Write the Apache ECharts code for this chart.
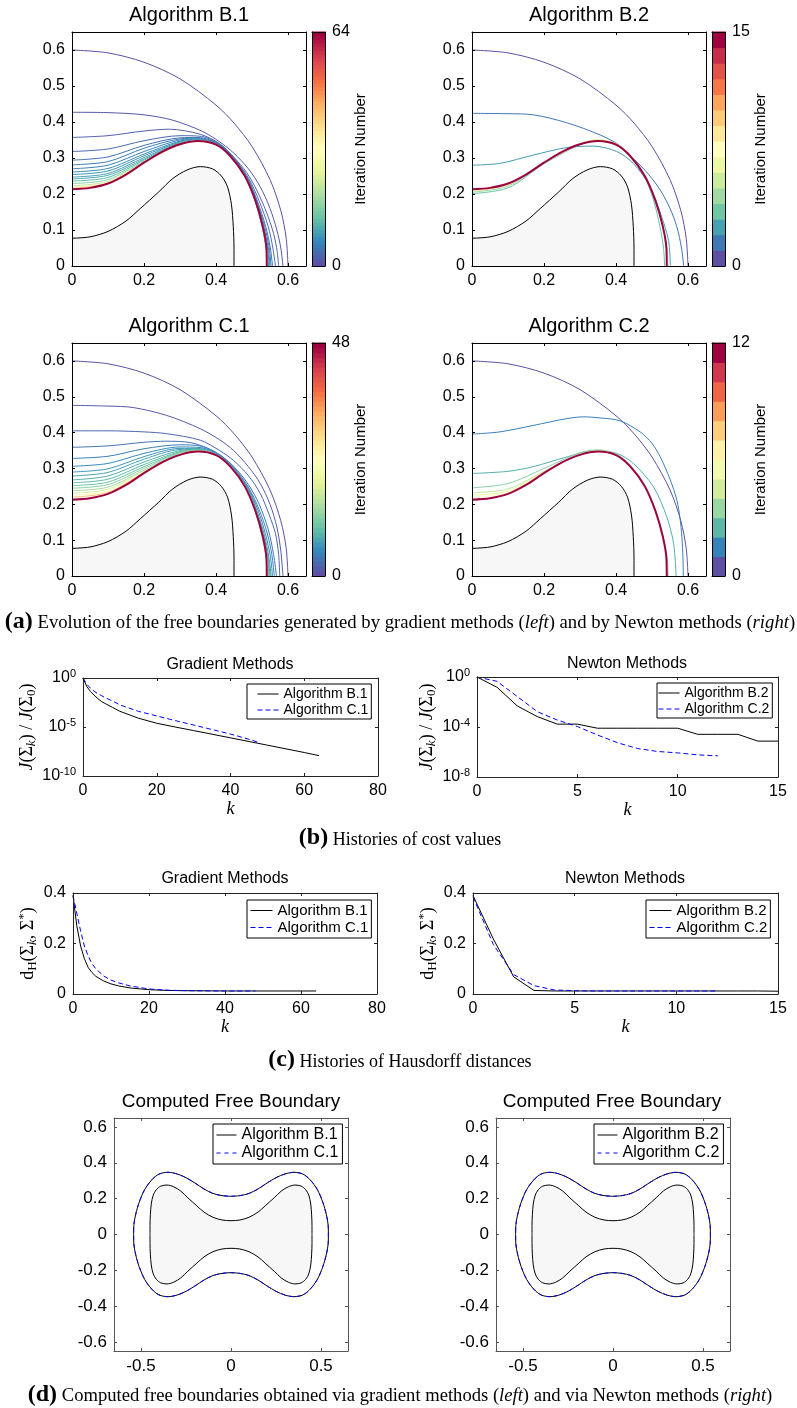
<!DOCTYPE html>
<html lang="en">
<head>
<meta charset="UTF-8">
<title>Free boundary iterations</title>
<script src="https://cdn.jsdelivr.net/npm/echarts@6/dist/echarts.min.js"></script>
<style>
html, body { margin: 0; padding: 0; background: #fff; }
#main { width: 797px; height: 1408px; }
</style>
</head>
<body>
<div id="main"></div>
<script>
// ---------- data ----------
// quarter of the obstacle (grey region) and of the converged free boundary
var obstacle = [[0,0.077],[0.05,0.081],[0.1,0.096],[0.15,0.125],[0.19,0.16],[0.24,0.205],[0.28,0.243],[0.32,0.267],[0.356,0.276],[0.39,0.27],[0.415,0.25],[0.432,0.22],[0.443,0.17],[0.448,0.11],[0.45,0.05],[0.45,0]];
var finalBoundary = [[0,0.213],[0.05,0.217],[0.1,0.229],[0.15,0.254],[0.2,0.287],[0.25,0.317],[0.3,0.338],[0.35,0.347],[0.4,0.337],[0.44,0.305],[0.48,0.25],[0.51,0.18],[0.53,0.11],[0.54,0.05],[0.541,0]];
var initialBoundary = [[0,0.6],[0.1,0.592],[0.2,0.566],[0.3,0.52],[0.4,0.447],[0.45,0.397],[0.5,0.332],[0.55,0.24],[0.58,0.154],[0.595,0.077],[0.6,0]];

// Algorithm B.1 (64 iterations), a few of the iterates
var b1Iters = [0,1,2,3,4,5,6,7,8,9,10,12,16,22,30,42,64];
var b1Curves = [
  initialBoundary,
  [[0,0.427],[0.1,0.426],[0.2,0.42],[0.28,0.405],[0.36,0.375],[0.41,0.345],[0.45,0.313],[0.49,0.27],[0.523,0.22],[0.55,0.16],[0.569,0.1],[0.58,0.05],[0.586,0]],
  [[0,0.357],[0.1,0.362],[0.2,0.375],[0.27,0.38],[0.356,0.366],[0.41,0.34],[0.448,0.304],[0.485,0.26],[0.513,0.211],[0.54,0.15],[0.56,0.09],[0.57,0.04],[0.574,0]],
  [[0,0.318],[0.1,0.325],[0.2,0.348],[0.3,0.362],[0.36,0.36],[0.41,0.338],[0.45,0.3],[0.49,0.245],[0.52,0.18],[0.545,0.11],[0.558,0.05],[0.565,0]],
  [[0,0.294],[0.1,0.303],[0.2,0.335],[0.3,0.356],[0.35,0.357],[0.41,0.338],[0.45,0.3],[0.49,0.24],[0.515,0.18],[0.538,0.11],[0.551,0.05],[0.557,0]],
  [[0,0.281],[0.1,0.29],[0.2,0.327],[0.3,0.353],[0.35,0.355],[0.41,0.336],[0.45,0.299],[0.49,0.238],[0.515,0.175],[0.535,0.11],[0.548,0.05],[0.553,0]],
  [[0,0.27],[0.1,0.28],[0.2,0.318],[0.3,0.35],[0.35,0.353],[0.41,0.335],[0.45,0.298],[0.49,0.236],[0.513,0.175],[0.532,0.11],[0.545,0.05],[0.55,0]],
  [[0,0.261],[0.1,0.271],[0.2,0.311],[0.3,0.347],[0.35,0.352],[0.41,0.334],[0.45,0.297],[0.49,0.235],[0.512,0.175],[0.53,0.11],[0.543,0.05],[0.548,0]],
  [[0,0.254],[0.1,0.264],[0.2,0.306],[0.3,0.345],[0.35,0.351],[0.41,0.333],[0.45,0.296],[0.49,0.234],[0.511,0.175],[0.529,0.11],[0.541,0.05],[0.546,0]],
  [[0,0.247],[0.1,0.257],[0.2,0.301],[0.3,0.343],[0.35,0.35],[0.4,0.34],[0.45,0.296],[0.49,0.233],[0.51,0.176],[0.528,0.11],[0.54,0.05],[0.545,0]],
  [[0,0.242],[0.1,0.252],[0.2,0.297],[0.3,0.342],[0.35,0.35],[0.4,0.339],[0.45,0.295],[0.49,0.233],[0.51,0.177],[0.528,0.11],[0.539,0.05],[0.544,0]],
  [[0,0.236],[0.1,0.246],[0.2,0.294],[0.3,0.341],[0.35,0.349],[0.4,0.338],[0.44,0.306],[0.48,0.251],[0.51,0.18],[0.53,0.11],[0.541,0.05],[0.543,0]],
  [[0,0.229],[0.1,0.24],[0.2,0.291],[0.3,0.34],[0.35,0.348],[0.4,0.338],[0.44,0.306],[0.48,0.25],[0.51,0.18],[0.53,0.11],[0.54,0.05],[0.543,0]],
  [[0,0.223],[0.1,0.235],[0.2,0.289],[0.3,0.339],[0.35,0.348],[0.4,0.337],[0.44,0.305],[0.48,0.25],[0.51,0.18],[0.53,0.11],[0.54,0.05],[0.542,0]],
  [[0,0.219],[0.1,0.232],[0.2,0.288],[0.3,0.339],[0.35,0.348],[0.4,0.337],[0.44,0.305],[0.48,0.25],[0.51,0.18],[0.53,0.11],[0.54,0.05],[0.542,0]],
  [[0,0.216],[0.1,0.23],[0.2,0.287],[0.3,0.338],[0.35,0.347],[0.4,0.337],[0.44,0.305],[0.48,0.25],[0.51,0.18],[0.53,0.11],[0.54,0.05],[0.542,0]],
  finalBoundary
];

// Algorithm C.1 (48 iterations)
var c1Iters = [0,1,2,3,4,5,6,7,8,9,10,12,14,18,24,32,48];
var c1Curves = [
  initialBoundary,
  [[0,0.476],[0.1,0.474],[0.17,0.47],[0.263,0.448],[0.356,0.411],[0.41,0.38],[0.448,0.351],[0.49,0.305],[0.523,0.258],[0.55,0.2],[0.569,0.137],[0.58,0.07],[0.586,0]],
  [[0,0.405],[0.1,0.405],[0.2,0.402],[0.263,0.397],[0.356,0.379],[0.41,0.35],[0.448,0.323],[0.49,0.28],[0.523,0.23],[0.548,0.17],[0.565,0.119],[0.574,0.06],[0.577,0]],
  [[0,0.359],[0.1,0.363],[0.2,0.373],[0.26,0.376],[0.33,0.372],[0.4,0.345],[0.45,0.305],[0.49,0.255],[0.52,0.2],[0.545,0.13],[0.56,0.06],[0.568,0]],
  [[0,0.328],[0.1,0.334],[0.2,0.355],[0.3,0.366],[0.36,0.362],[0.41,0.338],[0.45,0.302],[0.49,0.248],[0.52,0.185],[0.542,0.12],[0.555,0.06],[0.562,0]],
  [[0,0.306],[0.1,0.314],[0.2,0.342],[0.3,0.36],[0.36,0.358],[0.41,0.336],[0.45,0.3],[0.49,0.244],[0.518,0.18],[0.538,0.115],[0.551,0.055],[0.557,0]],
  [[0,0.29],[0.1,0.299],[0.2,0.333],[0.3,0.356],[0.35,0.356],[0.41,0.335],[0.45,0.299],[0.49,0.24],[0.515,0.178],[0.535,0.112],[0.547,0.052],[0.553,0]],
  [[0,0.279],[0.1,0.289],[0.2,0.326],[0.3,0.353],[0.35,0.354],[0.41,0.334],[0.45,0.298],[0.49,0.238],[0.514,0.176],[0.533,0.11],[0.545,0.05],[0.55,0]],
  [[0,0.268],[0.1,0.279],[0.2,0.318],[0.3,0.35],[0.35,0.353],[0.41,0.333],[0.45,0.297],[0.49,0.236],[0.512,0.176],[0.531,0.11],[0.543,0.05],[0.548,0]],
  [[0,0.26],[0.1,0.27],[0.2,0.311],[0.3,0.347],[0.35,0.352],[0.41,0.333],[0.45,0.296],[0.49,0.235],[0.511,0.176],[0.53,0.11],[0.542,0.05],[0.547,0]],
  [[0,0.252],[0.1,0.262],[0.2,0.305],[0.3,0.345],[0.35,0.351],[0.4,0.34],[0.45,0.296],[0.49,0.234],[0.51,0.177],[0.529,0.11],[0.541,0.05],[0.545,0]],
  [[0,0.245],[0.1,0.255],[0.2,0.3],[0.3,0.343],[0.35,0.35],[0.4,0.339],[0.45,0.295],[0.49,0.233],[0.51,0.178],[0.528,0.11],[0.54,0.05],[0.544,0]],
  [[0,0.238],[0.1,0.248],[0.2,0.295],[0.3,0.341],[0.35,0.349],[0.4,0.338],[0.44,0.306],[0.48,0.251],[0.51,0.18],[0.53,0.11],[0.541,0.05],[0.543,0]],
  [[0,0.231],[0.1,0.242],[0.2,0.292],[0.3,0.34],[0.35,0.348],[0.4,0.338],[0.44,0.306],[0.48,0.25],[0.51,0.18],[0.53,0.11],[0.54,0.05],[0.543,0]],
  [[0,0.225],[0.1,0.237],[0.2,0.29],[0.3,0.339],[0.35,0.348],[0.4,0.337],[0.44,0.305],[0.48,0.25],[0.51,0.18],[0.53,0.11],[0.54,0.05],[0.542,0]],
  [[0,0.22],[0.1,0.233],[0.2,0.288],[0.3,0.339],[0.35,0.348],[0.4,0.337],[0.44,0.305],[0.48,0.25],[0.51,0.18],[0.53,0.11],[0.54,0.05],[0.542,0]],
  finalBoundary
];

// Algorithm B.2 (15 iterations)
var b2Iters = [0,1,2,3,4,6,9,15];
var b2Curves = [
  initialBoundary,
  [[0,0.424],[0.1,0.423],[0.17,0.42],[0.263,0.398],[0.356,0.364],[0.41,0.335],[0.448,0.299],[0.49,0.255],[0.523,0.211],[0.55,0.16],[0.569,0.109],[0.582,0.05],[0.588,0]],
  [[0,0.28],[0.077,0.285],[0.17,0.308],[0.263,0.329],[0.337,0.333],[0.402,0.318],[0.448,0.285],[0.495,0.22],[0.527,0.136],[0.546,0.071],[0.551,0]],
  [[0,0.201],[0.1,0.217],[0.2,0.284],[0.3,0.337],[0.35,0.348],[0.4,0.336],[0.44,0.303],[0.48,0.246],[0.505,0.18],[0.522,0.11],[0.532,0.05],[0.535,0]],
  [[0,0.205],[0.1,0.222],[0.2,0.286],[0.3,0.339],[0.35,0.35],[0.4,0.339],[0.44,0.307],[0.48,0.252],[0.51,0.182],[0.53,0.112],[0.541,0.05],[0.544,0]],
  [[0,0.208],[0.1,0.225],[0.2,0.287],[0.3,0.34],[0.35,0.351],[0.4,0.34],[0.44,0.307],[0.48,0.251],[0.51,0.181],[0.53,0.111],[0.54,0.05],[0.543,0]],
  [[0,0.211],[0.1,0.228],[0.2,0.287],[0.3,0.339],[0.35,0.349],[0.4,0.338],[0.44,0.306],[0.48,0.25],[0.51,0.18],[0.53,0.11],[0.54,0.05],[0.542,0]],
  finalBoundary
];

// Algorithm C.2 (12 iterations)
var c2Iters = [0,1,2,3,4,5,6,12];
var c2Curves = [
  initialBoundary,
  [[0,0.396],[0.077,0.402],[0.17,0.42],[0.263,0.439],[0.309,0.444],[0.356,0.441],[0.411,0.433],[0.467,0.402],[0.5,0.37],[0.523,0.332],[0.55,0.27],[0.569,0.212],[0.578,0.16],[0.583,0.11],[0.586,0.05],[0.587,0]],
  [[0,0.286],[0.1,0.292],[0.17,0.305],[0.263,0.332],[0.337,0.349],[0.402,0.342],[0.448,0.314],[0.504,0.249],[0.541,0.165],[0.56,0.091],[0.567,0]],
  [[0,0.246],[0.1,0.258],[0.2,0.3],[0.3,0.344],[0.35,0.352],[0.4,0.341],[0.44,0.309],[0.48,0.254],[0.51,0.184],[0.53,0.114],[0.542,0.05],[0.545,0]],
  [[0,0.232],[0.1,0.243],[0.2,0.292],[0.3,0.34],[0.35,0.35],[0.4,0.339],[0.44,0.307],[0.48,0.251],[0.51,0.181],[0.53,0.111],[0.541,0.05],[0.543,0]],
  [[0,0.225],[0.1,0.237],[0.2,0.29],[0.3,0.339],[0.35,0.349],[0.4,0.338],[0.44,0.306],[0.48,0.25],[0.51,0.18],[0.53,0.11],[0.54,0.05],[0.542,0]],
  [[0,0.219],[0.1,0.233],[0.2,0.288],[0.3,0.339],[0.35,0.348],[0.4,0.337],[0.44,0.305],[0.48,0.25],[0.51,0.18],[0.53,0.11],[0.54,0.05],[0.542,0]],
  finalBoundary
];

// cost histories J(Sigma_k)/J(Sigma_0), [k, value]
var costGradB1 = [[0,1],[1,1.4e-1],[2,4.3e-2],[3,1.8e-2],[4,8.0e-3],[5,4.0e-3],[6,2.5e-3],[8,1.0e-3],[10,4.0e-4],[15,8.0e-5],[20,2.4e-5],[25,1.0e-5],[30,4.3e-6],[40,7.8e-7],[50,1.4e-7],[60,2.5e-8],[64,1.2e-8]];
var costGradC1 = [[0,1],[1,2.4e-1],[2,9.3e-2],[3,4.5e-2],[4,2.5e-2],[5,1.6e-2],[6,1.0e-2],[8,4.5e-3],[10,1.8e-3],[15,4.0e-4],[20,1.35e-4],[25,4.5e-5],[30,1.6e-5],[35,5.5e-6],[40,1.9e-6],[45,5.6e-7],[48,2.4e-7]];
var costNewtB2 = [[0,1],[1,1.5e-1],[2,4.9e-3],[3,6.8e-4],[4,1.7e-4],[5,1.7e-4],[6,8.0e-5],[7,8.0e-5],[8,8.0e-5],[9,8.0e-5],[10,8.0e-5],[11,2.6e-5],[12,2.6e-5],[13,2.6e-5],[14,7.4e-6],[15,7.4e-6]];
var costNewtC2 = [[0,1],[1,4.5e-1],[2,2.8e-2],[3,1.7e-3],[4,3.6e-4],[5,1.1e-4],[6,2.3e-5],[7,5.5e-6],[8,1.9e-6],[9,1.1e-6],[10,8.5e-7],[11,5.9e-7],[12,4.9e-7]];

// Hausdorff distance histories, [k, value]
var hdGradB1 = [[0,0.39],[1,0.27],[2,0.19],[3,0.14],[4,0.105],[5,0.085],[6,0.07],[8,0.052],[10,0.04],[12,0.032],[15,0.024],[20,0.017],[25,0.014],[30,0.013],[40,0.012],[50,0.012],[64,0.012]];
var hdGradC1 = [[0,0.39],[1,0.32],[2,0.25],[3,0.19],[4,0.15],[5,0.12],[6,0.1],[8,0.072],[10,0.055],[12,0.044],[15,0.032],[20,0.02],[25,0.015],[30,0.013],[40,0.012],[48,0.012]];
var hdNewtB2 = [[0,0.39],[1,0.218],[2,0.068],[3,0.014],[4,0.012],[5,0.012],[6,0.012],[7,0.012],[8,0.012],[9,0.012],[10,0.012],[11,0.012],[12,0.012],[13,0.012],[14,0.012],[15,0.011]];
var hdNewtC2 = [[0,0.385],[1,0.196],[2,0.077],[3,0.033],[4,0.016],[5,0.013],[6,0.012],[7,0.012],[8,0.012],[9,0.012],[10,0.012],[11,0.012],[12,0.012]];

// tick labels
var boundaryXTicks = [0, 0.2, 0.4, 0.6];
var boundaryYTicks = [0, 0.1, 0.2, 0.3, 0.4, 0.5, 0.6];
var gradKTicks = [0, 20, 40, 60, 80];
var newtKTicks = [0, 5, 10, 15];
var hdTicks = [0, 0.2, 0.4];
var fullXTicks = [-0.5, 0, 0.5];
var fullYTicks = [-0.6, -0.4, -0.2, 0, 0.2, 0.4, 0.6];

// ---------- helpers ----------
var SANS = 'Liberation Sans', SERIF = 'Liberation Serif';
var BLUE = '#0000ff', DASH = [5, 3];
var spectral = ['#5e4fa2','#3288bd','#66c2a5','#abdda4','#e6f598','#ffffbf','#fee08b','#fdae61','#f46d43','#d53e4f','#9e0142'];
function hex(c) { return [parseInt(c.substr(1,2),16), parseInt(c.substr(3,2),16), parseInt(c.substr(5,2),16)]; }
function cmap(t) {
  t = Math.max(0, Math.min(1, t));
  var s = t * (spectral.length - 1);
  var i = Math.min(Math.floor(s), spectral.length - 2), f = s - i;
  var a = hex(spectral[i]), b = hex(spectral[i + 1]);
  return 'rgb(' + [0,1,2].map(function (k) { return Math.round(a[k] + (b[k] - a[k]) * f); }).join(',') + ')';
}

var option = {
  animation: false,
  backgroundColor: '#fff',
  grid: [], xAxis: [], yAxis: [], series: [], legend: [], graphic: []
};

function makeAxis(gi, pos, a, withLabels, fs, color) {
  var ax = {
    gridIndex: gi, position: pos, type: a.log ? 'log' : 'value', min: a.min, max: a.max, z: 5,
    axisLine: { show: true, onZero: false, lineStyle: { color: color, width: 1 } },
    axisTick: { show: !a.noTicks, inside: true, length: 3, lineStyle: { color: color, width: 1 } },
    splitLine: { show: false },
    axisLabel: { show: withLabels, color: '#000', fontFamily: SANS, fontSize: fs, margin: 7 }
  };
  if (a.log) {
    ax.logBase = 10;
    ax.interval = a.interval;
    ax.axisLabel.formatter = function (v) { return '{b|10}{s|' + Math.round(Math.log10(v)) + '}'; };
    ax.axisLabel.rich = {
      b: { fontFamily: SANS, fontSize: fs, color: '#000' },
      s: { fontFamily: SANS, fontSize: fs - 5, color: '#000', padding: [0, 0, 9, 0] }
    };
  } else if (a.ticks) {
    ax.axisTick.customValues = a.ticks;
    ax.axisLabel.customValues = a.ticks;
  }
  if (withLabels && a.name) {
    ax.name = a.name;
    ax.nameLocation = 'middle';
    ax.nameGap = a.nameGap;
    if (a.nameRotate != null) ax.nameRotate = a.nameRotate;
    ax.nameTextStyle = a.nameStyle;
  }
  return ax;
}

function addPanel(p) {
  var gi = option.grid.length;
  option.grid.push({ left: p.left, top: p.top, width: p.width, height: p.height, containLabel: false, outerBoundsMode: 'none' });
  var xi = option.xAxis.length, yi = option.yAxis.length;
  var c = p.color || '#222';
  option.xAxis.push(makeAxis(gi, 'bottom', p.x, true, p.fs, c), makeAxis(gi, 'top', p.x, false, p.fs, c));
  option.yAxis.push(makeAxis(gi, 'left', p.y, true, p.fs, c), makeAxis(gi, 'right', p.y, false, p.fs, c));
  return { x: xi, y: yi };
}

function lineSeries(ax, data, color, width, extra) {
  var s = {
    type: 'line', xAxisIndex: ax.x, yAxisIndex: ax.y, data: data, symbol: 'none', showSymbol: false,
    itemStyle: { color: color },
    lineStyle: { color: color, width: width }, z: 3, silent: true
  };
  for (var k in extra) s[k] = extra[k];
  return s;
}

function addColorbar(left, top, height, n) {
  var gi = option.grid.length;
  option.grid.push({ left: left, top: top, width: 13, height: height, containLabel: false, outerBoundsMode: 'none' });
  var xi = option.xAxis.length, yi = option.yAxis.length;
  var bx = { min: 0, max: 1, ticks: [], noTicks: true };
  var by = { min: 0, max: n, ticks: [0, n], noTicks: true };
  var byr = { min: 0, max: n, ticks: [0, n], noTicks: true, name: 'Iteration Number', nameGap: 27, nameRotate: 90,
    nameStyle: { fontFamily: SANS, fontSize: 15, color: '#000' } };
  option.xAxis.push(makeAxis(gi, 'bottom', bx, false, 16, '#000'), makeAxis(gi, 'top', bx, false, 16, '#000'));
  option.yAxis.push(makeAxis(gi, 'left', by, false, 16, '#000'), makeAxis(gi, 'right', byr, true, 16, '#000'));
  var bands = [];
  for (var i = 0; i < n; i++) bands.push([0, i]);
  option.series.push({
    type: 'custom', xAxisIndex: xi, yAxisIndex: yi, data: bands, z: 1, silent: true,
    renderItem: function (params, api) {
      var i = api.value(1);
      var a = api.coord([0, i]), b = api.coord([1, i + 1]);
      return { type: 'rect', shape: { x: a[0], y: b[1] - 0.5, width: b[0] - a[0], height: a[1] - b[1] + 1 },
        style: { fill: cmap(n > 1 ? i / (n - 1) : 0) } };
    }
  });
}

function addEvolution(left, top, height, iters, curves, maxIt) {
  var ax = addPanel({ left: left, top: top, width: 234, height: height, fs: 16, color: '#000',
    x: { min: 0, max: 0.65, ticks: boundaryXTicks }, y: { min: 0, max: 0.65, ticks: boundaryYTicks } });
  option.series.push(lineSeries(ax, obstacle, '#000', 1, { smooth: 0.3, z: 2,
    areaStyle: { color: '#f7f7f7', opacity: 1 } }));
  curves.forEach(function (c, j) {
    var last = j === curves.length - 1;
    option.series.push(lineSeries(ax, c, cmap(iters[j] / maxIt), last ? 2 : 1, { smooth: 0.3, z: last ? 4 : 3 }));
  });
  addColorbar(left + 240, top, height, maxIt);
}

// mirror a first-quadrant arc into a closed loop / half curves
function mirrorLoop(q) {
  var out = q.slice(), r = q.slice().reverse();
  r.slice(1).forEach(function (p) { out.push([p[0], -p[1]]); });
  q.slice(1).forEach(function (p) { out.push([-p[0], -p[1]]); });
  r.slice(1).forEach(function (p) { out.push([-p[0], p[1]]); });
  return out;
}
function upperHalf(q) {
  return q.slice().reverse().map(function (p) { return [-p[0], p[1]]; }).concat(q.slice(1));
}
function lowerHalf(q) {
  return upperHalf(q).map(function (p) { return [p[0], -p[1]]; });
}

var kName = { fontFamily: SERIF, fontStyle: 'italic', fontSize: 18, color: '#000' };
var mathRich = {
  n: { fontFamily: SERIF, fontSize: 18, color: '#000' },
  i: { fontFamily: SERIF, fontStyle: 'italic', fontSize: 18, color: '#000' },
  sub: { fontFamily: SERIF, fontStyle: 'italic', fontSize: 13, color: '#000', padding: [9, 0, 0, 0] },
  subr: { fontFamily: SERIF, fontSize: 13, color: '#000', padding: [9, 0, 0, 0] },
  sup: { fontFamily: SERIF, fontSize: 13, color: '#000', padding: [0, 0, 10, 0] }
};
var costName = '{i|J}{n|(Σ}{sub|k}{n|) / }{i|J}{n|(Σ}{subr|0}{n|)}';
var hdName = '{n|d}{subr|H}{n|(Σ}{sub|k}{n|, Σ}{sup|*}{n|)}';

// legend entries: first name solid black, second dashed blue
function legendBox(left, top, names, fs, pad, iw, lh, dash) {
  option.legend.push({
    left: left, top: top, orient: 'vertical', align: 'left', selectedMode: false,
    data: [
      { name: names[0], itemStyle: { opacity: 0 }, lineStyle: { color: '#000', width: 1, type: 'solid' } },
      { name: names[1], itemStyle: { opacity: 0 }, lineStyle: { color: BLUE, width: 1, type: dash } }
    ],
    backgroundColor: '#fff', borderColor: '#000', borderWidth: 1, borderRadius: 0,
    padding: pad, itemGap: 0, itemWidth: iw, itemHeight: fs,
    textStyle: { fontFamily: SANS, fontSize: fs, color: '#000', lineHeight: lh }, z: 10
  });
}

// ---------- (a) evolution of free boundaries ----------
addEvolution(72, 32, 234, b1Iters, b1Curves, 64);
addEvolution(472, 32, 234, b2Iters, b2Curves, 15);
addEvolution(72, 343, 233, c1Iters, c1Curves, 48);
addEvolution(472, 343, 233, c2Iters, c2Curves, 12);

// ---------- (b) cost histories ----------
var pb1 = addPanel({ left: 83, top: 678, width: 295, height: 98, fs: 16,
  x: { min: 0, max: 80, ticks: gradKTicks, name: 'k', nameGap: 22, nameStyle: kName },
  y: { log: true, min: 1e-10, max: 1, interval: 5, name: costName, nameGap: 40, nameStyle: { rich: mathRich } } });
option.series.push(lineSeries(pb1, costGradB1, '#000', 1, { name: 'Algorithm B.1' }));
option.series.push(lineSeries(pb1, costGradC1, BLUE, 1, { name: 'Algorithm C.1', lineStyle: { color: BLUE, width: 1, type: DASH } }));
legendBox(247, 684, ['Algorithm B.1', 'Algorithm C.1'], 14, [2, 3, 1, 10], 21, 16, DASH);

var pb2 = addPanel({ left: 477, top: 677, width: 301, height: 100, fs: 16,
  x: { min: 0, max: 15, ticks: newtKTicks, name: 'k', nameGap: 22, nameStyle: kName },
  y: { log: true, min: 1e-8, max: 1, interval: 4, name: costName, nameGap: 34, nameStyle: { rich: mathRich } } });
option.series.push(lineSeries(pb2, costNewtB2, '#000', 1, { name: 'Algorithm B.2' }));
option.series.push(lineSeries(pb2, costNewtC2, BLUE, 1, { name: 'Algorithm C.2', lineStyle: { color: BLUE, width: 1, type: DASH } }));
legendBox(657, 683, ['Algorithm B.2', 'Algorithm C.2'], 14, [2, 3, 1, 1], 21, 16, DASH);

// ---------- (c) Hausdorff distance histories ----------
var pc1 = addPanel({ left: 73, top: 893, width: 304, height: 101, fs: 16,
  x: { min: 0, max: 80, ticks: gradKTicks, name: 'k', nameGap: 24, nameStyle: kName },
  y: { min: 0, max: 0.4, ticks: hdTicks, name: hdName, nameGap: 33, nameStyle: { rich: mathRich } } });
option.series.push(lineSeries(pc1, hdGradB1, '#000', 1, { name: 'Algorithm B.1' }));
option.series.push(lineSeries(pc1, hdGradC1, BLUE, 1, { name: 'Algorithm C.1', lineStyle: { color: BLUE, width: 1, type: DASH } }));
legendBox(247, 900, ['Algorithm B.1', 'Algorithm C.1'], 15, [2, 3, 2, 3], 22, 17, DASH);

var pc2 = addPanel({ left: 473, top: 893, width: 305, height: 101, fs: 16,
  x: { min: 0, max: 15, ticks: newtKTicks, name: 'k', nameGap: 24, nameStyle: kName },
  y: { min: 0, max: 0.4, ticks: hdTicks, name: hdName, nameGap: 33, nameStyle: { rich: mathRich } } });
option.series.push(lineSeries(pc2, hdNewtB2, '#000', 1, { name: 'Algorithm B.2' }));
option.series.push(lineSeries(pc2, hdNewtC2, BLUE, 1, { name: 'Algorithm C.2', lineStyle: { color: BLUE, width: 1, type: DASH } }));
legendBox(646, 900, ['Algorithm B.2', 'Algorithm C.2'], 15, [2, 3, 2, 3], 22, 17, DASH);

// ---------- (d) computed free boundaries ----------
function addFull(left, nameB, nameC) {
  var ax = addPanel({ left: left, top: 1118, width: 234, height: 233, fs: 17, color: '#555',
    x: { min: -0.65, max: 0.65, ticks: fullXTicks }, y: { min: -0.65, max: 0.65, ticks: fullYTicks } });
  option.series.push(lineSeries(ax, upperHalf(obstacle), '#000', 1, { smooth: 0.3, z: 2, areaStyle: { color: '#f7f7f7', opacity: 1 } }));
  option.series.push(lineSeries(ax, lowerHalf(obstacle), '#000', 1, { smooth: 0.3, z: 2, areaStyle: { color: '#f7f7f7', opacity: 1 } }));
  option.series.push(lineSeries(ax, mirrorLoop(finalBoundary), '#000', 1, { name: nameB, smooth: 0.3 }));
  option.series.push(lineSeries(ax, mirrorLoop(finalBoundary), BLUE, 1, { name: nameC, smooth: 0.3, z: 4,
    lineStyle: { color: BLUE, width: 1, type: [4, 4] } }));
}
addFull(114, 'Algorithm B.1', 'Algorithm C.1');
legendBox(213, 1124, ['Algorithm B.1', 'Algorithm C.1'], 16, [2, 4, 2, 3], 20, 18, [4, 4]);
addFull(496, 'Algorithm B.2', 'Algorithm C.2');
legendBox(594, 1124, ['Algorithm B.2', 'Algorithm C.2'], 16, [2, 4, 2, 3], 20, 18, [4, 4]);

// ---------- titles and captions ----------
function title(x, y, text, size) {
  option.graphic.push({ type: 'text', x: x, y: y, silent: true,
    style: { text: text, fill: '#000', font: size + 'px "' + SANS + '"',
      align: 'center', verticalAlign: 'middle', textAlign: 'center', textVerticalAlign: 'middle' } });
}
title(189, 15, 'Algorithm B.1', 20);
title(589, 15, 'Algorithm B.2', 20);
title(189, 326, 'Algorithm C.1', 20);
title(589, 326, 'Algorithm C.2', 20);
title(230, 665, 'Gradient Methods', 16);
title(627, 664, 'Newton Methods', 16);
title(225, 879, 'Gradient Methods', 16);
title(625, 879, 'Newton Methods', 16);
title(231, 1102, 'Computed Free Boundary', 19);
title(612, 1102, 'Computed Free Boundary', 19);

function capRich(fs) {
  return {
    b: { fontFamily: SERIF, fontWeight: 'bold', fontSize: 24, color: '#000', verticalAlign: 'bottom' },
    n: { fontFamily: SERIF, fontSize: fs, color: '#000', verticalAlign: 'bottom', padding: [0, 0, 1, 0] },
    i: { fontFamily: SERIF, fontStyle: 'italic', fontSize: fs, color: '#000', verticalAlign: 'bottom', padding: [0, 0, 1, 0] }
  };
}
function caption(y, text, fs) {
  option.graphic.push({ type: 'text', x: 400, y: y, silent: true,
    style: { text: text, rich: capRich(fs), fill: '#000', font: fs + 'px "' + SERIF + '"',
      align: 'center', verticalAlign: 'middle', textAlign: 'center', textVerticalAlign: 'middle' } });
}
caption(622, '{b|(a)}{n| Evolution of the free boundaries generated by gradient methods (}{i|left}{n|) and by Newton methods (}{i|right}{n|)}', 18.7);
caption(838, '{b|(b)}{n| Histories of cost values}', 18);
caption(1060, '{b|(c)}{n| Histories of Hausdorff distances}', 18);
caption(1395, '{b|(d)}{n| Computed free boundaries obtained via gradient methods (}{i|left}{n|) and via Newton methods (}{i|right}{n|)}', 18.6);

var chart = echarts.init(document.getElementById('main'));
chart.setOption(option);
</script>
</body>
</html>
